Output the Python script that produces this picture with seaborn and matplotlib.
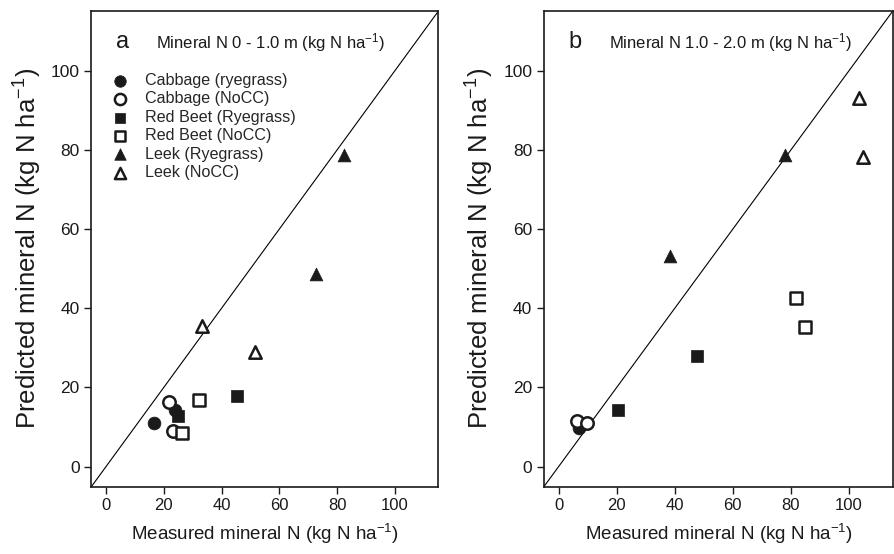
import numpy as np
import pandas as pd
import matplotlib
matplotlib.use("Agg")
import matplotlib.pyplot as plt
import seaborn as sns

# =================== Data ===================
groups = ["Cabbage (ryegrass)", "Cabbage (NoCC)", "Red Beet (Ryegrass)",
          "Red Beet (NoCC)", "Leek (Ryegrass)", "Leek (NoCC)"]

# panel a: 0 - 1.0 m
a_measured = {
    "Cabbage (ryegrass)": [16.8, 23.9],
    "Cabbage (NoCC)": [21.8, 23.3],
    "Red Beet (Ryegrass)": [25.0, 45.2],
    "Red Beet (NoCC)": [32.1, 26.4],
    "Leek (Ryegrass)": [72.7, 82.5],
    "Leek (NoCC)": [33.3, 51.6],
}
a_predicted = {
    "Cabbage (ryegrass)": [11.0, 14.3],
    "Cabbage (NoCC)": [16.4, 9.1],
    "Red Beet (Ryegrass)": [12.8, 17.8],
    "Red Beet (NoCC)": [16.8, 8.4],
    "Leek (Ryegrass)": [48.7, 78.6],
    "Leek (NoCC)": [35.5, 29.0],
}

# panel b: 1.0 - 2.0 m
b_measured = {
    "Cabbage (ryegrass)": [7.2],
    "Cabbage (NoCC)": [6.3, 9.8],
    "Red Beet (Ryegrass)": [20.4, 47.8],
    "Red Beet (NoCC)": [81.6, 84.8],
    "Leek (Ryegrass)": [38.3, 77.8],
    "Leek (NoCC)": [103.4, 104.8],
}
b_predicted = {
    "Cabbage (ryegrass)": [9.9],
    "Cabbage (NoCC)": [11.6, 11.0],
    "Red Beet (Ryegrass)": [14.4, 28.0],
    "Red Beet (NoCC)": [42.6, 35.3],
    "Leek (Ryegrass)": [53.1, 78.6],
    "Leek (NoCC)": [93.0, 78.1],
}

ticks = [0, 20, 40, 60, 80, 100]

# =================== Style ===================
sns.set_style("ticks")
plt.rcParams["font.family"] = ["Liberation Sans", "DejaVu Sans"]
plt.rcParams["mathtext.fontset"] = "custom"
plt.rcParams["mathtext.rm"] = "Liberation Sans"
plt.rcParams["mathtext.it"] = "Liberation Sans"

INK = "#1a1a1a"

styles = {
    "Cabbage (ryegrass)": dict(marker="o", filled=True, s=85),
    "Cabbage (NoCC)": dict(marker="o", filled=False, s=80),
    "Red Beet (Ryegrass)": dict(marker="s", filled=True, s=75),
    "Red Beet (NoCC)": dict(marker="s", filled=False, s=70),
    "Leek (Ryegrass)": dict(marker="^", filled=True, s=85),
    "Leek (NoCC)": dict(marker="^", filled=False, s=80),
}


def to_frame(meas, pred):
    rows = []
    for g in groups:
        for x, y in zip(meas[g], pred[g]):
            rows.append({"group": g, "measured": x, "predicted": y})
    return pd.DataFrame(rows)


def draw_panel(ax, df, letter, title, legend=False):
    # 1:1 line
    ax.axline((0, 0), slope=1, color="black", lw=0.8, zorder=1)
    for g in groups:
        st = styles[g]
        sub = df[df["group"] == g]
        sns.scatterplot(
            data=sub, x="measured", y="predicted", ax=ax,
            marker=st["marker"], s=st["s"],
            facecolor=INK if st["filled"] else "white",
            edgecolor=INK, linewidth=1.8 if not st["filled"] else 0.5,
            label=g, zorder=3, legend=False,
        )
    ax.set_xlim(-5, 115)
    ax.set_ylim(-5, 115)
    ax.set_xticks(ticks)
    ax.set_yticks(ticks)
    ax.tick_params(axis="x", labelsize=12, length=5, width=1, colors=INK)
    ax.tick_params(axis="y", labelsize=12.5, length=5, width=1, colors=INK)
    for sp in ax.spines.values():
        sp.set_visible(True)
        sp.set_linewidth(1.2)
        sp.set_color(INK)
    ax.set_xlabel(r"Measured mineral N (kg N ha$^{-1}$)", fontsize=13.5, color=INK,
                  labelpad=6)
    ax.set_ylabel(r"Predicted mineral N (kg N ha$^{-1}$)", fontsize=18.5, color=INK,
                  labelpad=5)
    ax.text(0.09, 0.935, letter, transform=ax.transAxes, fontsize=17,
            ha="center", va="center", color=INK)
    ax.text(0.185, 0.935, title, transform=ax.transAxes, fontsize=12,
            ha="left", va="center", color=INK)
    if legend:
        handles, labels = ax.get_legend_handles_labels()
        ax.legend(handles, labels, loc="upper left", bbox_to_anchor=(0.0, 0.897),
                  frameon=False, fontsize=11.6, handletextpad=0.55,
                  labelspacing=0.21, borderaxespad=0.4, markerscale=0.9)


fig = plt.figure(figsize=(8.94, 5.54), dpi=100)
ax1 = fig.add_axes([0.1023, 0.1218, 0.388, 0.858])
ax2 = fig.add_axes([0.6085, 0.1218, 0.390, 0.858])

draw_panel(ax1, to_frame(a_measured, a_predicted), "a",
           r"Mineral N 0 - 1.0 m (kg N ha$^{-1}$)", legend=True)
draw_panel(ax2, to_frame(b_measured, b_predicted), "b",
           r"Mineral N 1.0 - 2.0 m (kg N ha$^{-1}$)")

fig.savefig("out.png", dpi=100)
